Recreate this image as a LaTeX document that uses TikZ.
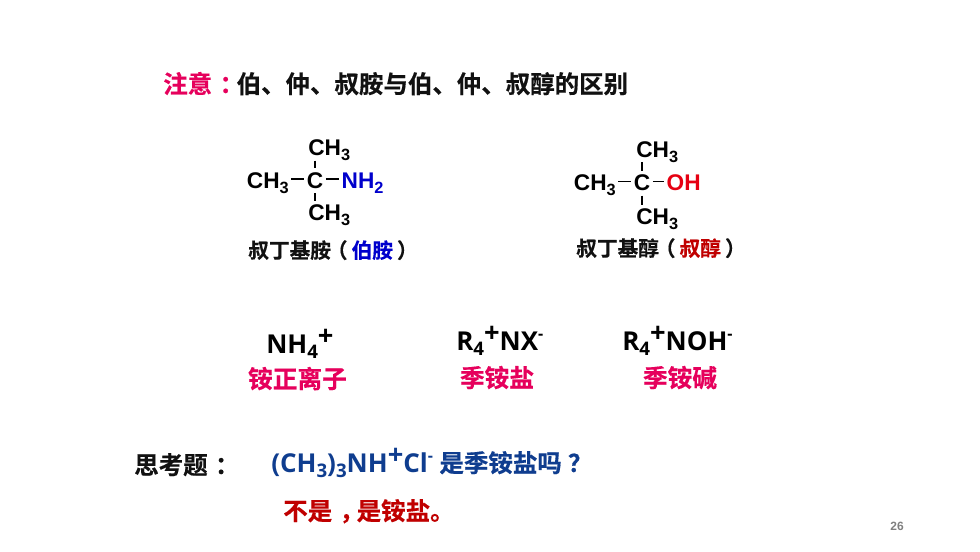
\documentclass[tikz,border=0pt]{standalone}
\usepackage{fontspec}
\setmainfont{Open Sans}
\newfontfamily\cjk{Noto Sans CJK SC}[BoldFont={* Bold},BoldFeatures={FakeBold=0.4}]
\newfontfamily\arialfont{Liberation Sans}
\usetikzlibrary{positioning}
\definecolor{hotpink}{HTML}{E6005C}
\definecolor{darkblue}{HTML}{0F3D8F}
\definecolor{darkred}{HTML}{C00000}
\definecolor{purered}{HTML}{E60012}
\definecolor{pureblue}{HTML}{0000CC}
\definecolor{inkblack}{HTML}{111111}
\newcommand{\lowidx}[1]{\raisebox{-0.22em}{\scalebox{0.72}{#1}}}
\newcommand{\highidx}[1]{\raisebox{0.3em}{\scalebox{1.05}{#1}}}
\newcommand{\minusidx}{\raisebox{0.42em}{\fontsize{12pt}{12pt}\selectfont -}}
\newcommand{\shiftglyph}[2]{\kern#1em#2\kern-#1em}
\begin{document}
\begin{tikzpicture}[x=0.75pt,y=-0.75pt,
	headline/.style = {anchor=base west, inner sep=0pt, text=inkblack, font=\cjk\bfseries\fontsize{18.35pt}{22pt}\selectfont},
	capline/.style = {anchor=base west, inner sep=0pt, text=inkblack, font=\cjk\bfseries\fontsize{15.5pt}{18pt}\selectfont},
	chem/.style = {inner sep=0.75pt, text=black, text height=15.7pt, text depth=1.5pt, font=\arialfont\bfseries\fontsize{17pt}{20pt}\selectfont},
	ion/.style = {anchor=base west, inner sep=0pt, text=black, font=\bfseries\fontsize{19.5pt}{22pt}\selectfont},
	ionname/.style = {anchor=base, inner sep=0pt, text=hotpink, font=\cjk\bfseries\fontsize{18.5pt}{22pt}\selectfont},
	bond/.style = {draw, line width=1.3pt, shorten <=1pt, shorten >=1pt},
	upbond/.style = {bond, shorten >=-1.5pt},
	downbond/.style = {bond, shorten >=-2pt}]
	\useasboundingbox (0,0) rectangle (980,551);
	\fill[white] (0,0) rectangle (980,551);

	% title
	\node[headline] (title) at (163,93) {\textcolor{hotpink}{注意\shiftglyph{0.3}{：}}伯、仲、叔胺与伯、仲、叔醇的区别};

	% tert-butylamine
	\node[chem] (c1) at (315,179) {C};
	\node[chem, left=15.5*0.75pt of c1] (m1) {CH\lowidx{3}};
	\node[chem, right=16*0.75pt of c1, text=pureblue] (nh) {NH\lowidx{2}};
	\node[chem, anchor=west] (t1) at (307,146.5) {CH\lowidx{3}};
	\node[chem, anchor=west] (b1) at (307,211.5) {CH\lowidx{3}};
	\draw[bond] (m1) -- (c1);
	\draw[bond] (c1) -- (nh);
	\draw[upbond] (c1.north |- t1.south) -- (c1.north);
	\draw[downbond] (c1.south) -- (c1.south |- b1.north);
	\node[capline] (cap1) at (248,258) {叔丁基胺\shiftglyph{-0.2}{（}\textcolor{pureblue}{伯胺}\shiftglyph{0.2}{）}};

	% tert-butanol
	\node[chem] (c2) at (642,181.5) {C};
	\node[chem, left=15.5*0.75pt of c2] (m2) {CH\lowidx{3}};
	\node[chem, right=14*0.75pt of c2, text=purered] (oh) {OH};
	\node[chem, anchor=west] (t2) at (635,148) {CH\lowidx{3}};
	\node[chem, anchor=west] (b2) at (635,214.8) {CH\lowidx{3}};
	\draw[bond] (m2) -- (c2);
	\draw[bond] (c2) -- (oh);
	\draw[upbond] (c2.north |- t2.south) -- (c2.north);
	\draw[downbond] (c2.south) -- (c2.south |- b2.north);
	\node[capline] (cap2) at (576,256) {叔丁基醇\shiftglyph{-0.2}{（}\textcolor{darkred}{叔醇}\shiftglyph{0.2}{）}};

	% ions
	\node[ion] (ammonium) at (266,353) {NH\lowidx{4}\highidx{+}};
	\node[ion] (salt) at (456,350) {R\lowidx{4}\highidx{+}NX\minusidx};
	\node[ion] (alkali) at (622,350) {R\lowidx{4}\highidx{+}NOH\minusidx};
	\node[ionname] (nameammonium) at (297.5,388) {铵正离子};
	\node[ionname] (namesalt) at (497,387) {季铵盐};
	\node[ionname] (namealkali) at (680,387) {季铵碱};

	% question
	\node[headline] (think) at (134,474) {思考题\shiftglyph{0.3}{：}};
	\node[ion, text=darkblue] (question) at (271,472) {(CH\lowidx{3})\lowidx{3}NH\highidx{+}Cl\minusidx\kern0.25em{\cjk\fontsize{18.35pt}{22pt}\selectfont 是季铵盐吗\shiftglyph{0.25}{？}}};
	\node[headline, text=darkred] (answer) at (283,520) {不是\shiftglyph{0.3}{，}是铵盐。};

	\node[inner sep=0pt, text=gray, font=\arialfont\bfseries\fontsize{9pt}{10pt}\selectfont] (page) at (897,526) {26};
\end{tikzpicture}
\end{document}
